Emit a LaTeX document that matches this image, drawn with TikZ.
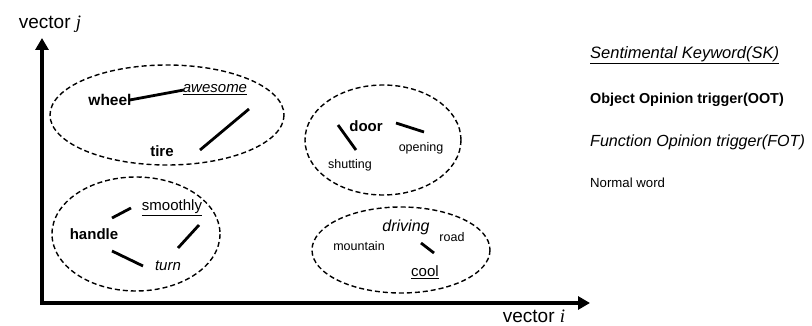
\documentclass[tikz,border=0pt]{standalone}
\usepackage{fontspec}
\setmainfont{Liberation Sans}
\newfontfamily\serifit{Liberation Serif}
\usetikzlibrary{arrows.meta}
\tikzset{
  grp/.style={draw=black, line width=1.4pt, dash pattern=on 5pt off 3pt},
  lnk/.style={line width=2.8pt, black},
  axis/.style={line width=3.6pt, -{Triangle[width=13pt,length=12pt]}},
  wd/.style={inner sep=0pt, font=\fontsize{15}{17}\selectfont},
  sm/.style={inner sep=0pt, font=\fontsize{12.5}{14}\selectfont},
  leg/.style={inner sep=0pt, anchor=west, font=\fontsize{14}{16}\selectfont},
  axlab/.style={inner sep=0pt, font=\fontsize{19}{21}\selectfont},
}
\begin{document}
\begin{tikzpicture}[x=1pt, y=-1pt]
\useasboundingbox (0,0) rectangle (812,326);
% axes
\coordinate (O) at (42,303);
\coordinate (Ytip) at (42,38);
\coordinate (Xtip) at (590,303);
\draw[axis] ([yshift=1.8pt]O) -- (Ytip);
\draw[axis] ([xshift=-1.8pt]O) -- (Xtip);
\node[axlab] (vj) at (50,24) {vector {\serifit\itshape j}};
\node[axlab] (vi) at (534,316) {vector {\serifit\itshape i}};
% group ellipses
\draw[grp] (167,115) ellipse [x radius=117, y radius=50];
\draw[grp] (136,234) ellipse [x radius=84, y radius=57];
\draw[grp] (383,140) ellipse [x radius=78, y radius=55];
\draw[grp] (401,250) ellipse [x radius=89, y radius=43];
% group 1
\node[wd, font=\fontsize{15.5}{17}\selectfont\bfseries] (wheel) at (110,100) {wheel};
\node[wd, font=\fontsize{15}{17}\selectfont\itshape] (awesome) at (215,90) {\underline{awesome}};
\node[wd, font=\fontsize{15}{17}\selectfont\bfseries] (tire) at (162,151) {tire};
\coordinate (t1) at (200,150);
\coordinate (t2) at (249,109);
\draw[lnk] ([xshift=-2pt]wheel.east) -- ([xshift=1pt]awesome.west);
\draw[lnk] (t1) -- (t2);
% group 2
\node[wd, font=\fontsize{15}{17}\selectfont\bfseries] (handle) at (94,234) {handle};
\node[wd] (smoothly) at (172,208) {\underline{smoothly}};
\node[wd, font=\fontsize{15}{17}\selectfont\itshape] (turn) at (168,266) {turn};
\coordinate (h1) at (112,218); \coordinate (h2) at (131,208);
\coordinate (h3) at (112,251); \coordinate (h4) at (143,266);
\coordinate (h5) at (199,225); \coordinate (h6) at (178,248);
\draw[lnk] (h1) -- (h2);
\draw[lnk] (h3) -- (h4);
\draw[lnk] (h5) -- (h6);
% group 3
\node[wd, font=\fontsize{15}{17}\selectfont\bfseries] (door) at (366,126) {door};
\node[sm] (opening) at (421,148) {opening};
\node[sm] (shutting) at (350,165) {shutting};
\coordinate (d1) at (338,125); \coordinate (d2) at (356,150);
\coordinate (d3) at (396,123); \coordinate (d4) at (424,132);
\draw[lnk] (d1) -- (d2);
\draw[lnk] (d3) -- (d4);
% group 4
\node[wd, font=\fontsize{16}{18}\selectfont\itshape] (driving) at (406,227) {driving};
\node[sm] (road) at (452,237) {road};
\node[sm] (mountain) at (359,246) {mountain};
\node[wd] (cool) at (425,272) {\underline{cool}};
\coordinate (c1) at (421,243); \coordinate (c2) at (434,253);
\draw[lnk] (c1) -- (c2);
% legend
\node[leg, font=\fontsize{16.5}{18}\selectfont\itshape] (lsk) at (590,55) {\underline{Sentimental Keyword(SK)}};
\node[leg, font=\fontsize{14.4}{16}\selectfont\bfseries] (loot) at (590,100) {Object Opinion trigger(OOT)};
\node[leg, font=\fontsize{16.1}{18}\selectfont\itshape] (lfot) at (590,142) {Function Opinion trigger(FOT)};
\node[leg, font=\fontsize{13.2}{15}\selectfont] (lnw) at (590,183) {Normal word};
\end{tikzpicture}
\end{document}
